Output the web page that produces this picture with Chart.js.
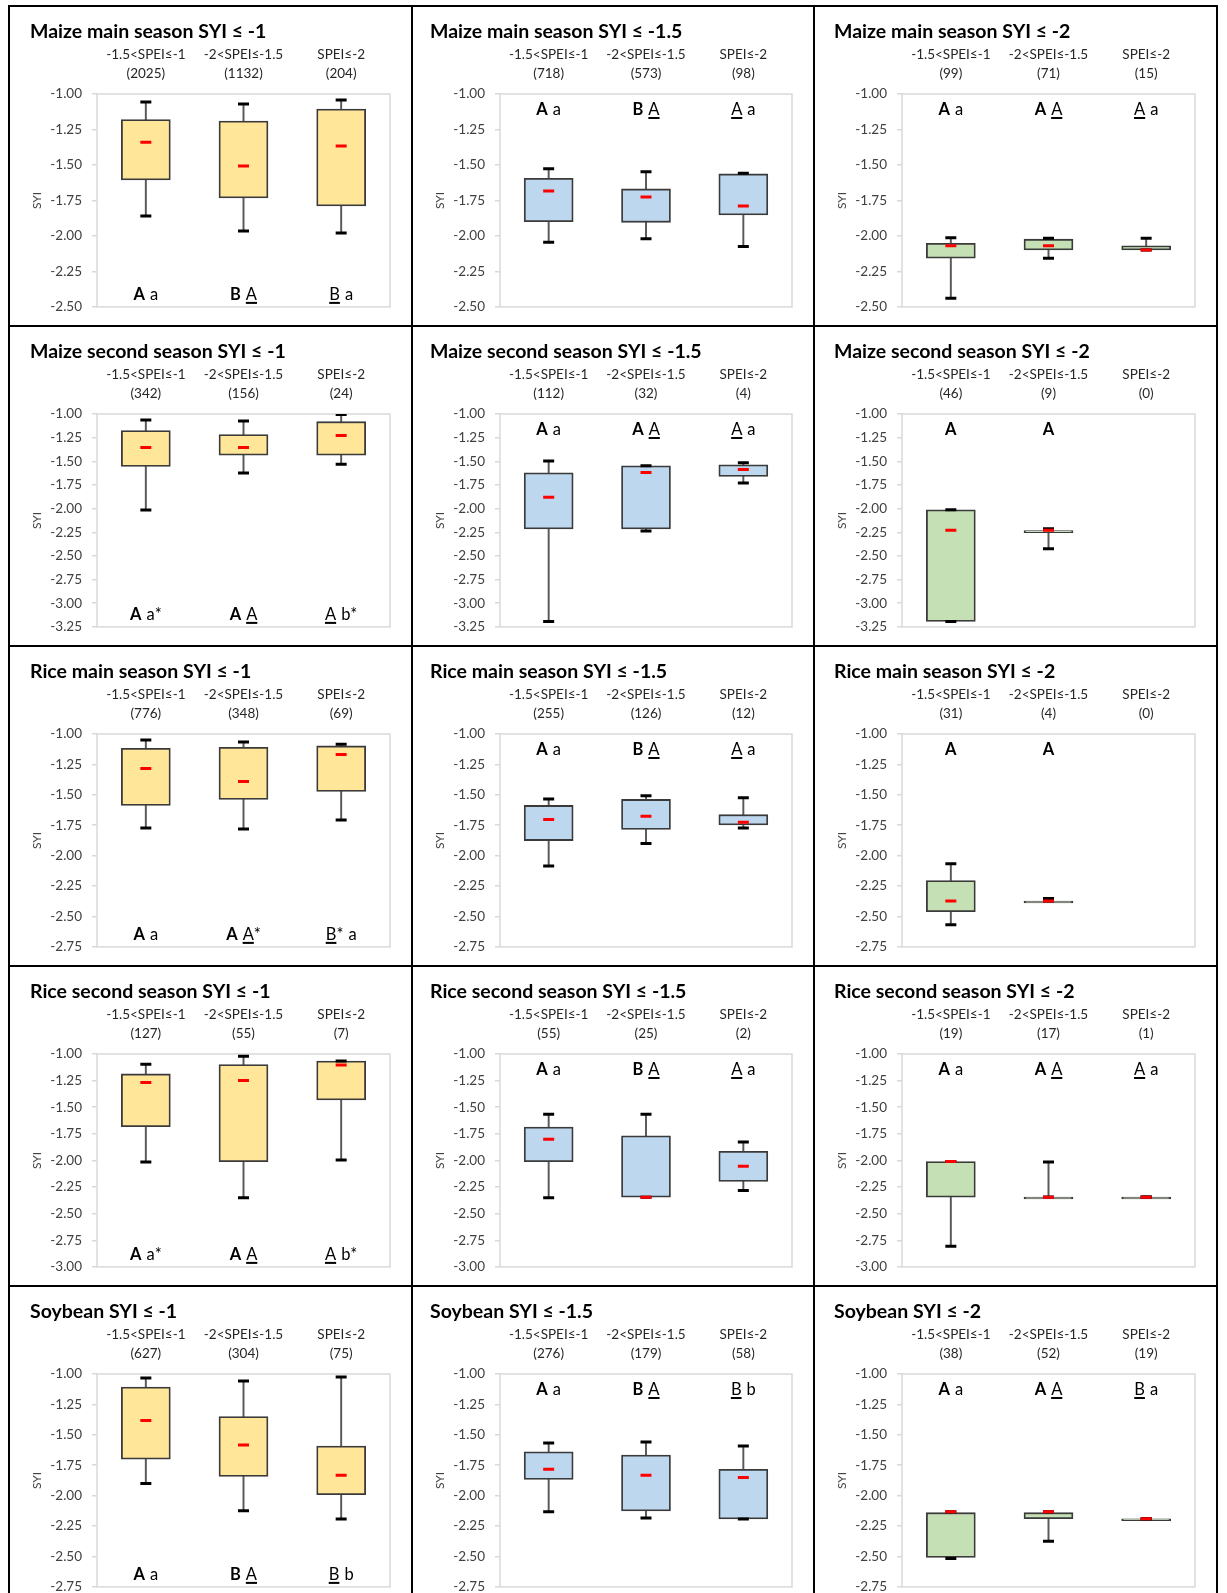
<!DOCTYPE html>
<html>
<head>
<meta charset="utf-8">
<script src="https://cdn.jsdelivr.net/npm/chart.js@4"></script>
<style>
  html, body { margin: 0; padding: 0; background: #fff; overflow: hidden; }
  #grid {
    position: absolute; left: 8px; top: 5px;
    display: grid;
    grid-template-columns: 401px 400px 401px;
    grid-template-rows: repeat(5, 318px);
    gap: 2px; padding: 2px; background: #000;
  }
  .cell { background: #fff; position: relative; }
  canvas { display: block; }
</style>
</head>
<body>
<div id="grid"></div>
<script>
// SPEI drought classes shown along each panel
const categories = ['-1.5<SPEI≤-1', '-2<SPEI≤-1.5', 'SPEI≤-2'];

const panelTitles = [
  'Maize main season SYI ≤ -1', 'Maize main season SYI ≤ -1.5', 'Maize main season SYI ≤ -2',
  'Maize second season SYI ≤ -1', 'Maize second season SYI ≤ -1.5', 'Maize second season SYI ≤ -2',
  'Rice main season SYI ≤ -1', 'Rice main season SYI ≤ -1.5', 'Rice main season SYI ≤ -2',
  'Rice second season SYI ≤ -1', 'Rice second season SYI ≤ -1.5', 'Rice second season SYI ≤ -2',
  'Soybean SYI ≤ -1', 'Soybean SYI ≤ -1.5', 'Soybean SYI ≤ -2'
];

// number of cases per class
const sampleCounts = [
  [2025, 1132, 204], [718, 573, 98], [99, 71, 15],
  [342, 156, 24], [112, 32, 4], [46, 9, 0],
  [776, 348, 69], [255, 126, 12], [31, 4, 0],
  [127, 55, 7], [55, 25, 2], [19, 17, 1],
  [627, 304, 75], [276, 179, 58], [38, 52, 19]
];

// upper whisker end
const whiskerHigh = [
  [-1.056, -1.070, -1.042], [-1.526, -1.547, -1.559], [-2.012, -2.016, -2.016],
  [-1.063, -1.074, -1.004], [-1.498, -1.548, -1.516], [-2.012, -2.214, null],
  [-1.049, -1.066, -1.085], [-1.535, -1.508, -1.524], [-2.067, -2.352, null],
  [-1.097, -1.022, -1.066], [-1.565, -1.565, -1.827], [-2.010, -2.014, -2.343],
  [-1.033, -1.058, -1.025], [-1.567, -1.558, -1.592], [-2.133, -2.133, -2.190]
];

// upper edge of the box
const boxHigh = [
  [-1.180, -1.190, -1.106], [-1.594, -1.669, -1.563], [-2.052, -2.023, -2.070],
  [-1.175, -1.218, -1.081], [-1.621, -1.548, -1.537], [-2.012, -2.232, null],
  [-1.117, -1.109, -1.098], [-1.587, -1.538, -1.663], [-2.204, -2.373, null],
  [-1.187, -1.100, -1.066], [-1.686, -1.768, -1.914], [-2.010, -2.343, -2.343],
  [-1.108, -1.350, -1.592], [-1.640, -1.667, -1.783], [-2.140, -2.140, -2.190]
];

// mean value (red dash)
const meanValues = [
  [-1.340, -1.507, -1.366], [-1.683, -1.725, -1.789], [-2.070, -2.070, -2.099],
  [-1.354, -1.354, -1.228], [-1.881, -1.618, -1.586], [-2.228, -2.228, null],
  [-1.284, -1.390, -1.169], [-1.702, -1.677, -1.726], [-2.373, -2.373, null],
  [-1.268, -1.250, -1.103], [-1.802, -2.345, -2.055], [-2.010, -2.345, -2.345],
  [-1.383, -1.583, -1.833], [-1.783, -1.833, -1.850], [-2.133, -2.133, -2.190]
];

// lower edge of the box
const boxLow = [
  [-1.606, -1.732, -1.789], [-1.899, -1.904, -1.852], [-2.157, -2.099, -2.099],
  [-1.554, -1.435, -1.435], [-2.214, -2.214, -1.660], [-3.192, -2.232, null],
  [-1.587, -1.538, -1.472], [-1.876, -1.784, -1.748], [-2.461, -2.373, null],
  [-1.683, -2.011, -1.431], [-2.011, -2.345, -2.198], [-2.345, -2.343, -2.343],
  [-1.700, -1.842, -1.992], [-1.867, -2.125, -2.192], [-2.508, -2.190, -2.190]
];

// lower whisker end
const whiskerLow = [
  [-1.860, -1.965, -1.979], [-2.045, -2.019, -2.075], [-2.439, -2.157, -2.099],
  [-2.014, -1.624, -1.530], [-3.194, -2.236, -1.730], [-3.192, -2.425, null],
  [-1.773, -1.781, -1.707], [-2.084, -1.901, -1.773], [-2.567, -2.373, null],
  [-2.014, -2.351, -1.995], [-2.351, -2.345, -2.282], [-2.807, -2.343, -2.343],
  [-1.900, -2.125, -2.192], [-2.133, -2.183, -2.192], [-2.517, -2.375, -2.190]
];

// significance letters: "!" = bold, "_" = underlined letter
const groupLetters = [
  ['!A a', '!B _A', '_B a'], ['!A a', '!B _A', '_A a'], ['!A a', '!A _A', '_A a'],
  ['!A a*', '!A _A', '_A b*'], ['!A a', '!A _A', '_A a'], ['!A', '!A', ''],
  ['!A a', '!A _A*', '_B* a'], ['!A a', '!B _A', '_A a'], ['!A', '!A', ''],
  ['!A a*', '!A _A', '_A b*'], ['!A a', '!B _A', '_A a'], ['!A a', '!A _A', '_A a'],
  ['!A a', '!B _A', '_B b'], ['!A a', '!B _A', '_B b'], ['!A a', '!A _A', '_B a']
];

// lower limit of the SYI axis for each row of panels
const rowAxisMin = [-2.5, -3.25, -2.75, -3, -2.75];
const axisMax = -1;
const tickStep = 0.25;

const fillColors = ['#FFE699', '#BDD7EE', '#C5E0B4'];
const columnWidths = [401, 400, 401];
const titleOffsets = [20, 17, 19];
const FONT = 'Lato, "Open Sans", sans-serif';

function drawLetters(ctx, text, cx, cy) {
  if (!text) return;
  const pieces = text.split(' ').filter(Boolean).map(tok => {
    let bold = false, under = false;
    while (tok[0] === '!' || tok[0] === '_') {
      if (tok[0] === '!') bold = true; else under = true;
      tok = tok.slice(1);
    }
    return { head: tok[0], tail: tok.slice(1), bold, under };
  });
  const gap = 5;
  const size = '16.5px ';
  let total = 0;
  pieces.forEach((p, k) => {
    ctx.font = (p.bold ? 'bold ' : '') + size + FONT;
    p.wh = ctx.measureText(p.head).width;
    ctx.font = size + FONT;
    p.wt = ctx.measureText(p.tail).width;
    total += p.wh + p.wt + (k ? gap : 0);
  });
  let x = cx - total / 2;
  ctx.fillStyle = '#000';
  ctx.textBaseline = 'alphabetic';
  ctx.textAlign = 'left';
  const base = cy + 6;
  pieces.forEach((p, k) => {
    if (k) x += gap;
    ctx.font = (p.bold ? 'bold ' : '') + size + FONT;
    ctx.fillText(p.head, x, base);
    if (p.under) ctx.fillRect(x, base + 2, p.wh, 2);
    x += p.wh;
    ctx.font = size + FONT;
    ctx.fillText(p.tail, x, base);
    x += p.wt;
  });
}

const panelText = {
  id: 'panelText',
  beforeDatasetsDraw(chart) {
    const { ctx, chartArea: a } = chart;
    ctx.save();
    ctx.strokeStyle = '#d9d9d9';
    ctx.lineWidth = 1.5;
    ctx.strokeRect(a.left, a.top, a.right - a.left, a.bottom - a.top);
    ctx.restore();
  },
  afterDraw(chart, args, opts) {
    const { ctx, chartArea: a } = chart;
    const xs = chart.scales.x;
    ctx.save();
    // panel title
    ctx.fillStyle = '#000';
    ctx.font = 'bold 19.5px ' + FONT;
    ctx.textAlign = 'left';
    ctx.textBaseline = 'alphabetic';
    ctx.fillText(opts.title, opts.titleX, 31);
    // class labels and counts above the plot
    ctx.fillStyle = '#262626';
    ctx.font = '13.5px ' + FONT;
    ctx.textAlign = 'center';
    ctx.textBaseline = 'middle';
    categories.forEach((c, k) => {
      const x = xs.getPixelForValue(k);
      ctx.fillText(c, x, 47.5);
      ctx.fillText('(' + opts.counts[k] + ')', x, 66.5);
    });
    // axis title
    ctx.save();
    ctx.translate(27, (a.top + a.bottom) / 2);
    ctx.rotate(-Math.PI / 2);
    ctx.font = '12px ' + FONT;
    ctx.fillStyle = '#404040';
    ctx.fillText('SYI', 0, 0);
    ctx.restore();
    // significance letters
    const ly = opts.lettersAtTop ? a.top + 15 : a.bottom - 13;
    opts.letters.forEach((t, k) => drawLetters(ctx, t, xs.getPixelForValue(k), ly));
    ctx.restore();
  }
};

const grid = document.getElementById('grid');

panelTitles.forEach((title, i) => {
  const row = Math.floor(i / 3), col = i % 3;
  const cell = document.createElement('div');
  cell.className = 'cell';
  const canvas = document.createElement('canvas');
  canvas.width = columnWidths[col];
  canvas.height = 318;
  canvas.style.width = columnWidths[col] + 'px';
  canvas.style.height = '318px';
  cell.appendChild(canvas);
  grid.appendChild(cell);

  const boxes = categories.map((_, k) => boxHigh[i][k] == null ? null : [boxLow[i][k], boxHigh[i][k]]);
  const whiskers = categories.map((_, k) => whiskerHigh[i][k] == null ? null : [whiskerLow[i][k], whiskerHigh[i][k]]);
  const dash = (data, color, order) => ({
    type: 'line', data, order, showLine: false,
    pointStyle: 'line', pointRadius: 5.5, pointBorderWidth: 3,
    pointBorderColor: color, borderColor: color, backgroundColor: color
  });

  new Chart(canvas, {
    type: 'bar',
    data: {
      labels: categories,
      datasets: [
        dash(meanValues[i], '#FF0000', 0),
        dash(whiskerHigh[i], '#000000', 1),
        dash(whiskerLow[i], '#000000', 1),
        {
          type: 'bar', data: boxes, order: 2, grouped: false,
          backgroundColor: fillColors[col], borderColor: '#3a3a3a', borderWidth: 1.8,
          borderSkipped: false, barThickness: 49, minBarLength: 2
        },
        {
          type: 'bar', data: whiskers, order: 3, grouped: false,
          backgroundColor: '#595959', borderWidth: 0, barThickness: 1.3
        }
      ]
    },
    options: {
      responsive: false,
      animation: false,
      events: [],
      layout: { padding: { left: 0, top: 87, right: 21, bottom: 18 } },
      plugins: {
        legend: { display: false },
        title: { display: false },
        tooltip: { enabled: false },
        panelText: {
          title,
          titleX: titleOffsets[col],
          counts: sampleCounts[i],
          letters: groupLetters[i],
          lettersAtTop: col !== 0
        }
      },
      scales: {
        x: { display: false, offset: true },
        y: {
          min: rowAxisMin[row],
          max: axisMax,
          afterFit: s => { s.width = 87; },
          ticks: {
            stepSize: tickStep, padding: 10, color: '#404040',
            font: { size: 13.5, family: FONT },
            callback: v => Number(v).toFixed(2)
          },
          grid: { drawOnChartArea: false, drawTicks: true, tickLength: 5, color: '#d9d9d9', lineWidth: 1.5 },
          border: { display: false }
        }
      }
    },
    plugins: [panelText]
  });
});
</script>
</body>
</html>
